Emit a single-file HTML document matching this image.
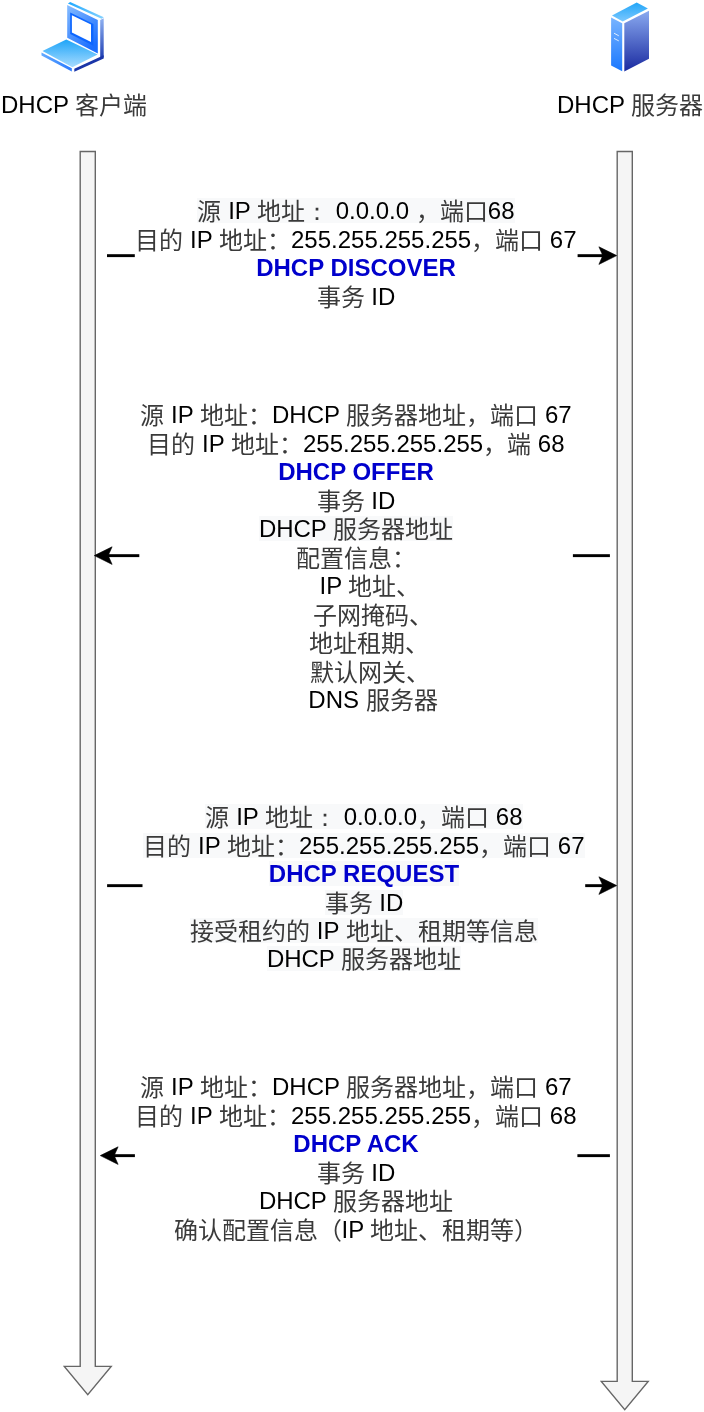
<!DOCTYPE html>
<html lang="zh-CN"><head><meta charset="utf-8">
<style>
html,body{margin:0;padding:0;background:#fff;}
body{width:704px;height:1412px;position:relative;overflow:hidden;-webkit-font-smoothing:antialiased;font-family:"Liberation Sans",sans-serif;font-size:24px;color:#000;}
.lbl{position:absolute;will-change:transform;white-space:nowrap;line-height:28.5px;}
.ln{position:absolute;will-change:transform;width:800px;text-align:center;white-space:nowrap;line-height:28.5px;height:28.5px;}
.g{background:linear-gradient(#f8f9fa,#f8f9fa) 0 1.2px/100% 25.2px no-repeat;}
.b{color:#0000cc;font-weight:bold;}
.c{color:#3a3a3a;position:relative;top:0.5px;}
svg{position:absolute;left:0;top:0;}
</style></head><body>

<svg width="704" height="1412" viewBox="0 0 704 1412">
  <defs>
    <linearGradient id="lidF" x1="0" y1="0" x2="0.6" y2="1">
      <stop offset="0" stop-color="#86bcff"/><stop offset="1" stop-color="#1a6eff"/>
    </linearGradient>
    <linearGradient id="lidT" x1="0" y1="0" x2="1" y2="0">
      <stop offset="0" stop-color="#1ea8ff"/><stop offset="1" stop-color="#86d2ff"/>
    </linearGradient>
    <linearGradient id="kbL" x1="0" y1="0" x2="1" y2="0">
      <stop offset="0" stop-color="#62aaff"/><stop offset="1" stop-color="#2a7aff"/>
    </linearGradient>
    <linearGradient id="lidS" x1="0" y1="0" x2="0" y2="1">
      <stop offset="0" stop-color="#90b2f2"/><stop offset="1" stop-color="#1d3db2"/>
    </linearGradient>
    <linearGradient id="kb" x1="0" y1="0" x2="0" y2="1">
      <stop offset="0" stop-color="#1ea4f8"/><stop offset="1" stop-color="#a8dcff"/>
    </linearGradient>
    <linearGradient id="srvT" x1="0" y1="0" x2="0" y2="1">
      <stop offset="0" stop-color="#22a6f8"/><stop offset="1" stop-color="#7cc8ff"/>
    </linearGradient>
    <linearGradient id="srvL" x1="0" y1="0" x2="0" y2="1">
      <stop offset="0" stop-color="#78b4ff"/><stop offset="1" stop-color="#1a78ff"/>
    </linearGradient>
    <linearGradient id="srvR" x1="0" y1="0" x2="0" y2="1">
      <stop offset="0" stop-color="#8aaaf0"/><stop offset="1" stop-color="#1a2aa0"/>
    </linearGradient>
  </defs>

  <!-- laptop -->
  <g>
    <polygon points="70.2,2.0 103.8,17.3 101.6,18.8 67.9,3.5" fill="url(#lidT)"/>
    <polygon points="67.2,5.1 97.8,20.1 97.8,53.5 67.2,37.8" fill="url(#lidF)"/>
    <polygon points="70.2,12.6 93.4,23.9 93.4,45.7 70.2,34.1" fill="#0d66ff"/>
    <polygon points="71.9,15.3 91.0,24.5 91.0,41.9 71.9,32.4" fill="#fff"/>
    <polygon points="100.2,19.9 103.7,18.2 103.7,57.2 100.2,58.9" fill="url(#lidS)"/>
    <polygon points="42.5,50.9 66.3,39.5 97.6,54.4 72.3,67.3" fill="url(#kb)"/>
    <polygon points="41.5,52.4 71.8,68.3 71.8,71.6 41.5,55.4" fill="url(#kbL)"/>
    <polygon points="74.3,68.8 103.7,55.2 103.7,58.4 74.3,71.8" fill="#1a35a8"/>
  </g>

  <!-- server -->
  <g>
    <polygon points="636.7,2.6 647.9,8.6 622.7,21.6 612.0,15.5" fill="url(#srvT)"/>
    <polygon points="611.1,17.6 622.2,23.3 622.2,71.3 611.1,65.6" fill="url(#srvL)"/>
    <polygon points="624.3,23.3 649,10.7 649,58.8 624.3,71.6" fill="url(#srvR)"/>
    <line x1="614" y1="33.2" x2="618.8" y2="35.8" stroke="#fff" stroke-width="0.8"/>
    <line x1="614" y1="38.4" x2="618.8" y2="40.9" stroke="#fff" stroke-width="0.8"/>
  </g>

  <!-- lifelines -->
  <path d="M80.2,151.5 H95.3 V1366.4 H111.2 L87.75,1394.7 L64.3,1366.4 H80.2 Z" fill="#f5f5f5" stroke="#666" stroke-width="1.4"/>
  <path d="M617.2,151.5 H632.3 V1381.4 H648.2 L624.75,1409.7 L601.3,1381.4 H617.2 Z" fill="#f5f5f5" stroke="#666" stroke-width="1.4"/>

  <!-- edges -->
  <g fill="#000">
    <rect x="107" y="254.2" width="27.8" height="2.9"/>
    <rect x="577.6" y="254.2" width="27" height="2.9"/>
    <rect x="107" y="554.2" width="32.3" height="2.9"/>
    <rect x="572.9" y="554.2" width="37" height="2.9"/>
    <rect x="107.1" y="884.2" width="35.4" height="2.9"/>
    <rect x="585.2" y="884.2" width="19.5" height="2.9"/>
    <rect x="112" y="1154.2" width="22.9" height="2.9"/>
    <rect x="577.4" y="1154.2" width="32.5" height="2.9"/>
  </g>
  <g fill="#000" stroke="#000" stroke-width="0.6" stroke-linejoin="round">
    <path d="M616.7,255.6 L598.9,246.8 L602.8,255.6 L598.9,264.4 Z"/>
    <path d="M94.3,555.6 L112.1,546.8 L108.2,555.6 L112.1,564.4 Z"/>
    <path d="M616.7,885.6 L598.9,876.8 L602.8,885.6 L598.9,894.4 Z"/>
    <path d="M100.3,1155.6 L118.1,1146.8 L114.2,1155.6 L118.1,1164.4 Z"/>
  </g>
</svg>

<div class="lbl" style="left:0.5px;top:91px;">DHCP <span class="c">客户端</span></div>
<div class="lbl" style="left:557px;top:91px;">DHCP <span class="c">服务器</span></div>

<div class="ln" style="left:-43.9px;top:197.0px"><span class="g"><span class="c">源</span> IP <span class="c">地址</span><span lang="ja"><span class="c">：</span></span> 0.0.0.0 <span class="c">，端口</span>68</span></div>
<div class="ln" style="left:-43.9px;top:226.0px"><span class="c">目的</span> IP <span class="c">地址：</span>255.255.255.255<span class="c">，端口</span> 67</div>
<div class="ln" style="left:-43.9px;top:254.0px"><span class="b">DHCP DISCOVER</span></div>
<div class="ln" style="left:-43.9px;top:283.0px"><span class="c">事务</span> ID</div>
<div class="ln" style="left:-43.8px;top:401.0px"><span class="c">源</span> IP <span class="c">地址：</span>DHCP <span class="c">服务器地址，端口</span> 67</div>
<div class="ln" style="left:-43.8px;top:430.0px"><span class="c">目的</span> IP <span class="c">地址：</span>255.255.255.255<span class="c">，端</span> 68</div>
<div class="ln" style="left:-43.8px;top:458.0px"><span class="b">DHCP OFFER</span></div>
<div class="ln" style="left:-43.8px;top:487.0px"><span class="c">事务</span> ID</div>
<div class="ln" style="left:-43.8px;top:515.0px"><span class="g">DHCP <span class="c">服务器地址</span></span></div>
<div class="ln" style="left:-43.8px;top:544.0px"><span class="c">配置信息：</span></div>
<div class="ln" style="left:-30.3px;top:572.0px">IP <span class="c">地址、</span></div>
<div class="ln" style="left:-27.0px;top:601.0px"><span class="c">子网掩码、</span></div>
<div class="ln" style="left:-30.9px;top:629.0px"><span class="c">地址租期、</span></div>
<div class="ln" style="left:-30.5px;top:658.0px"><span class="c">默认网关、</span></div>
<div class="ln" style="left:-27.2px;top:686.0px">DNS <span class="c">服务器</span></div>
<div class="ln" style="left:-36.0px;top:803.0px"><span class="g"><span class="c">源</span> IP <span class="c">地址</span><span lang="ja"><span class="c">：</span></span> 0.0.0.0<span class="c">，端口</span> 68</span></div>
<div class="ln" style="left:-36.0px;top:832.0px"><span class="g"><span class="c">目的</span> IP <span class="c">地址：</span>255.255.255.255<span class="c">，端口</span> 67</span></div>
<div class="ln" style="left:-36.0px;top:860.0px"><span class="g b">DHCP REQUEST</span></div>
<div class="ln" style="left:-36.0px;top:889.0px"><span class="g"><span class="c">事务</span> ID</span></div>
<div class="ln" style="left:-36.0px;top:917.0px"><span class="g"><span class="c">接受租约的</span> IP <span class="c">地址、租期等信息</span></span></div>
<div class="ln" style="left:-36.0px;top:945.0px"><span class="g">DHCP <span class="c">服务器地址</span></span></div>
<div class="ln" style="left:-44.0px;top:1073.0px"><span class="c">源</span> IP <span class="c">地址：</span>DHCP <span class="c">服务器地址，端口</span> 67</div>
<div class="ln" style="left:-44.0px;top:1102.0px"><span class="c">目的</span> IP <span class="c">地址：</span>255.255.255.255<span class="c">，端口</span> 68</div>
<div class="ln" style="left:-44.0px;top:1130.0px"><span class="b">DHCP ACK</span></div>
<div class="ln" style="left:-44.0px;top:1159.0px"><span class="c">事务</span> ID</div>
<div class="ln" style="left:-44.0px;top:1187.0px">DHCP <span class="c">服务器地址</span></div>
<div class="ln" style="left:-44.0px;top:1216.0px"><span class="c">确认配置信息（</span>IP <span class="c">地址、租期等）</span></div>
</body></html>
